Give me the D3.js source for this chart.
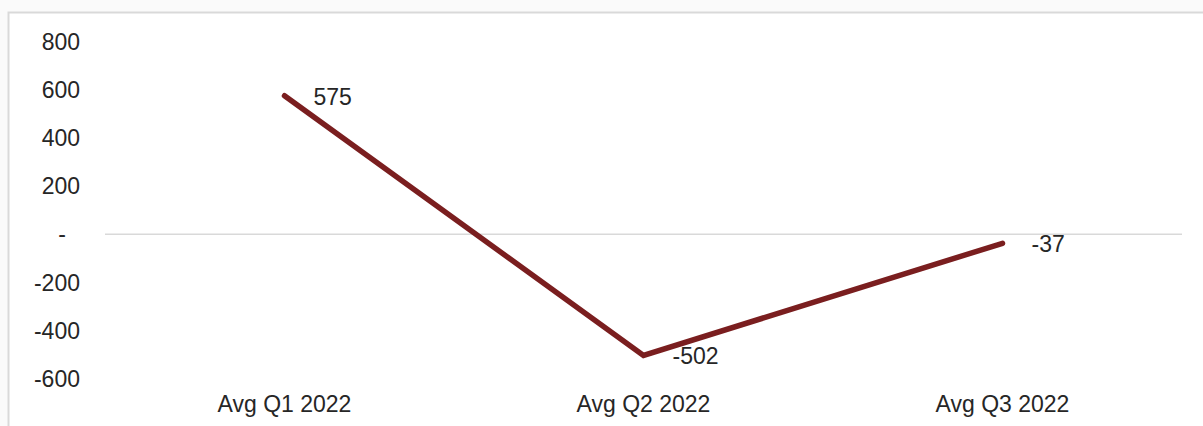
<!DOCTYPE html>
<html>
<head>
<meta charset="utf-8">
<script src="https://cdn.jsdelivr.net/npm/d3@7"></script>
<style>
  html, body { margin: 0; padding: 0; background: #fafafa; }
  svg { display: block; }
</style>
</head>
<body>
<svg id="chart"></svg>
<script>
const categories = ["Avg Q1 2022", "Avg Q2 2022", "Avg Q3 2022"];
const values = [575, -502, -37];
const tickValues = [800, 600, 400, 200, 0, -200, -400, -600];

const width = 1203, height = 426;
const margin = { top: 42, right: 21, bottom: 47, left: 105 };
const font = "'Liberation Sans', Arial, sans-serif";
const textColor = "#262626";
const fontSize = "23px";

const svg = d3.select("#chart").attr("width", width).attr("height", height);

// frame
svg.append("rect")
  .attr("x", 8.5).attr("y", 12.5)
  .attr("width", width + 10).attr("height", height + 10)
  .style("fill", "#ffffff")
  .style("stroke", "#d9d9d9")
  .style("stroke-width", 2);

const x = d3.scaleBand()
  .domain(categories)
  .range([margin.left, width - margin.right]);

const y = d3.scaleLinear()
  .domain([-600, 800])
  .range([379, 41.5]);

// zero line
svg.append("line")
  .attr("x1", x.range()[0]).attr("x2", x.range()[1])
  .attr("y1", y(0)).attr("y2", y(0))
  .style("stroke", "#d9d9d9")
  .style("stroke-width", 1.5);

// y axis labels (accounting style: zero shown as a dash)
svg.append("g")
  .selectAll("text")
  .data(tickValues)
  .enter()
  .append("text")
  .attr("x", (d) => (d === 0 ? 66 : 80))
  .attr("y", (d) => y(d))
  .attr("dy", "0.35em")
  .attr("text-anchor", "end")
  .style("font-family", font)
  .style("font-size", fontSize)
  .style("fill", textColor)
  .text((d) => (d === 0 ? "-" : d));

// category labels
svg.append("g")
  .selectAll("text")
  .data(categories)
  .enter()
  .append("text")
  .attr("x", (d) => x(d) + x.bandwidth() / 2)
  .attr("y", 404)
  .attr("dy", "0.35em")
  .attr("text-anchor", "middle")
  .style("font-family", font)
  .style("font-size", fontSize)
  .style("fill", textColor)
  .text((d) => d);

const line = d3.line()
  .x((d, i) => x(categories[i]) + x.bandwidth() / 2)
  .y((d) => y(d));

svg.append("path")
  .datum(values)
  .attr("d", line)
  .style("fill", "none")
  .style("stroke", "#7a1e1f")
  .style("stroke-width", 5.5)
  .style("stroke-linecap", "round")
  .style("stroke-linejoin", "miter");

// data labels
svg.append("g")
  .selectAll("text")
  .data(values)
  .enter()
  .append("text")
  .attr("x", (d, i) => x(categories[i]) + x.bandwidth() / 2 + 29)
  .attr("y", (d) => y(d) + 1)
  .attr("dy", "0.35em")
  .style("font-family", font)
  .style("font-size", fontSize)
  .style("fill", textColor)
  .text((d) => d);
</script>
</body>
</html>
